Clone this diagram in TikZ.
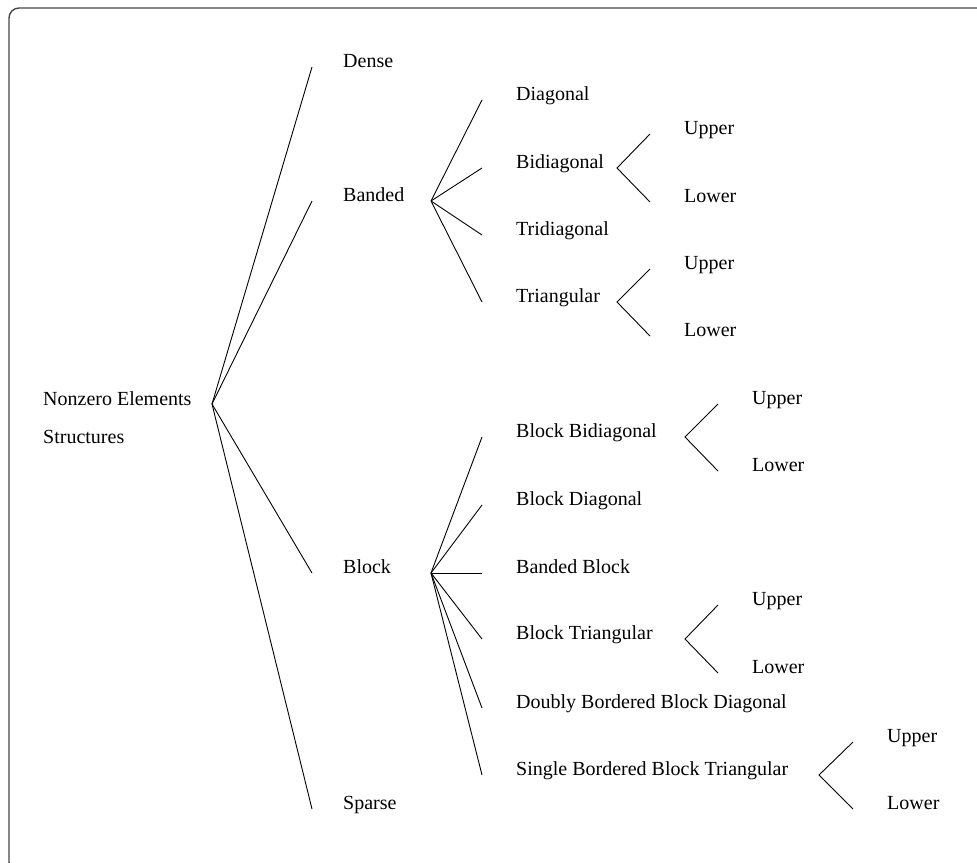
\documentclass[tikz,border=0pt]{standalone}
\usepackage{fontspec}
\setmainfont{Liberation Serif}
\begin{document}
\begin{tikzpicture}[x=1pt,y=-1pt,
  link/.style={draw=black,line width=0.9pt},
  frame/.style={draw=black!72,line width=1.4pt,rounded corners=10pt},
  lbl/.style={anchor=base west,inner sep=0pt,font=\fontsize{20}{38}\selectfont}]
\useasboundingbox (0,0) rectangle (977,862);
\begin{scope}
  \clip (0,0) rectangle (977,862);
  \draw[frame] (9,8) rectangle (995,872);
\end{scope}

% root (the base anchor sits on the last line)
\node[lbl,align=left] (root) at (43,443) {Nonzero Elements\\Structures};
\coordinate (rootfan) at (212,404);

% first level
\coordinate (dense-end)  at (312,67);
\coordinate (banded-end) at (312,201);
\coordinate (block-end)  at (312,573);
\coordinate (sparse-end) at (312,809);
\node[lbl] (dense)  at (343,67)  {Dense};
\node[lbl] (banded) at (343,201) {Banded};
\node[lbl] (block)  at (343,573) {Block};
\node[lbl] (sparse) at (343,809) {Sparse};
\foreach \c in {dense,banded,block,sparse}
  \draw[link] (rootfan) -- (\c-end);

% banded family
\coordinate (bandfan) at (431,201);
\coordinate (diag-end)    at (482,100);
\coordinate (bidiag-end)  at (482,168);
\coordinate (tridiag-end) at (482,235);
\coordinate (triang-end)  at (482,302);
\node[lbl] (diag)    at (516,100) {Diagonal};
\node[lbl] (bidiag)  at (516,168) {Bidiagonal};
\node[lbl] (tridiag) at (516,235) {Tridiagonal};
\node[lbl] (triang)  at (516,302) {Triangular};
\foreach \c in {diag,bidiag,tridiag,triang}
  \draw[link] (bandfan) -- (\c-end);

\coordinate (bidiagfan) at (617,168);
\coordinate (bidiagU-end) at (650,134);
\coordinate (bidiagL-end) at (650,202);
\node[lbl] (bidiagU) at (684,134) {Upper};
\node[lbl] (bidiagL) at (684,202) {Lower};
\draw[link] (bidiagU-end) -- (bidiagfan) -- (bidiagL-end);

\coordinate (triangfan) at (617,302);
\coordinate (triangU-end) at (650,269);
\coordinate (triangL-end) at (650,336);
\node[lbl] (triangU) at (684,269) {Upper};
\node[lbl] (triangL) at (684,336) {Lower};
\draw[link] (triangU-end) -- (triangfan) -- (triangL-end);

% block family
\coordinate (blockfan) at (431,573);
\coordinate (bbidiag-end) at (482,437);
\coordinate (bdiag-end)   at (482,505);
\coordinate (bandb-end)   at (482,573);
\coordinate (btri-end)    at (482,639);
\coordinate (dbbd-end)    at (482,708);
\coordinate (sbbt-end)    at (482,775);
\node[lbl] (bbidiag) at (516,437) {Block Bidiagonal};
\node[lbl] (bdiag)   at (516,505) {Block Diagonal};
\node[lbl] (bandb)   at (516,573) {Banded Block};
\node[lbl] (btri)    at (516,639) {Block Triangular};
\node[lbl] (dbbd)    at (516,708) {Doubly Bordered Block Diagonal};
\node[lbl] (sbbt)    at (516,775) {Single Bordered Block Triangular};
\foreach \c in {bbidiag,bdiag,bandb,btri,dbbd,sbbt}
  \draw[link] (blockfan) -- (\c-end);

\coordinate (bbidiagfan) at (685,437);
\coordinate (bbidiagU-end) at (718,404);
\coordinate (bbidiagL-end) at (718,471);
\node[lbl] (bbidiagU) at (752,404) {Upper};
\node[lbl] (bbidiagL) at (752,471) {Lower};
\draw[link] (bbidiagU-end) -- (bbidiagfan) -- (bbidiagL-end);

\coordinate (btrifan) at (685,639);
\coordinate (btriU-end) at (718,605);
\coordinate (btriL-end) at (718,673);
\node[lbl] (btriU) at (752,605) {Upper};
\node[lbl] (btriL) at (752,673) {Lower};
\draw[link] (btriU-end) -- (btrifan) -- (btriL-end);

\coordinate (sbbtfan) at (819,775);
\coordinate (sbbtU-end) at (853,742);
\coordinate (sbbtL-end) at (853,809);
\node[lbl] (sbbtU) at (887,742) {Upper};
\node[lbl] (sbbtL) at (887,809) {Lower};
\draw[link] (sbbtU-end) -- (sbbtfan) -- (sbbtL-end);
\end{tikzpicture}
\end{document}
